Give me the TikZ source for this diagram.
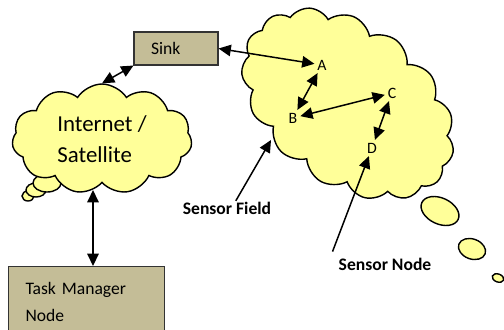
\documentclass[tikz,border=0pt]{standalone}
\usepackage{fontspec}
\setmainfont{Carlito}
\usetikzlibrary{shapes.symbols,arrows.meta}
\definecolor{cloud yellow}{RGB}{255,255,153}
\definecolor{box tan}{RGB}{196,189,151}
\tikzset{puffy/.style={cloud, cloud puffs=11, cloud puff arc=115, cloud ignores aspect, fill=cloud yellow, draw=black, line width=0.8pt},
    bubble/.style={fill=cloud yellow, draw=black, line width=0.8pt},
    boxed/.style={rectangle, fill=box tan, draw=black!80, line width=0.6pt},
    link/.style={{Triangle[length=7pt,width=6.5pt]}-{Triangle[length=7pt,width=6.5pt]}, line width=0.85pt},
    pointer/.style={-{Triangle[length=7pt,width=6.5pt]}, line width=0.85pt},
    sensor/.style={inner sep=1.5pt, font=\fontsize{9}{10}\selectfont},
    caption/.style={font=\fontsize{10}{12}\selectfont\bfseries}}

\begin{document}
\begin{tikzpicture}[x=0.02cm, y=-0.02cm]
    \useasboundingbox (0,0) rectangle (504,329);
    % sensor field cloud
    \node[puffy, cloud puffs=15, rotate=-37, minimum width=4.75cm, minimum height=3.2cm] (fieldcloud) at (348,104) {};
    \draw[bubble] (440,211) ellipse [x radius=20, y radius=13, rotate=-25];
    \draw[bubble] (472,249) ellipse [x radius=14, y radius=10, rotate=-20];
    \draw[bubble] (498,278) ellipse [x radius=6, y radius=4, rotate=-20];
    % internet cloud
    \draw[bubble] (28,196) ellipse [x radius=6, y radius=5];
    \draw[bubble] (36,190) ellipse [x radius=10, y radius=7];
    \draw[bubble] (47,183) ellipse [x radius=14, y radius=9];
    \node[puffy, minimum width=3.6cm, minimum height=2.2cm, align=left, font=\fontsize{13}{17.6}\selectfont] (net) at (102,139) {Internet /\\Satellite};
    % boxes
    \node[boxed, minimum width=1.68cm, minimum height=0.66cm, text width=1cm, inner xsep=0.34cm, align=left, font=\fontsize{10}{12}\selectfont] (sink) at (176,48.5) {Sink};
    \node[boxed, anchor=north west, minimum width=3.12cm, minimum height=1.4cm, text width=2.44cm, inner xsep=0.34cm, align=left, font=\fontsize{10}{15.3}\selectfont] (task) at (8,266) {Task Manager\\Node};
    % sensors
    \node[sensor] (a) at (322,65) {A};
    \node[sensor] (b) at (293,118) {B};
    \node[sensor] (c) at (392,93) {C};
    \node[sensor] (d) at (372,148) {D};
    \node[caption] (field) at (227,208) {Sensor Field};
    \node[caption] (snode) at (385,264) {Sensor Node};
    \coordinate (fieldedge) at (271,140);
    % links
    \draw[link] (sink.east) -- (a);
    \draw[link] (a) -- (b);
    \draw[link] (b) -- (c);
    \draw[link] (c) -- (d);
    \draw[link] (sink.south west) -- (net.north);
    \draw[link] (net.260) -- (net.260 |- task.north);
    \draw[pointer] ([xshift=5pt,yshift=-3pt]field.north) -- (fieldedge);
    \draw[pointer] (snode.north west) -- (d);
\end{tikzpicture}
\end{document}
